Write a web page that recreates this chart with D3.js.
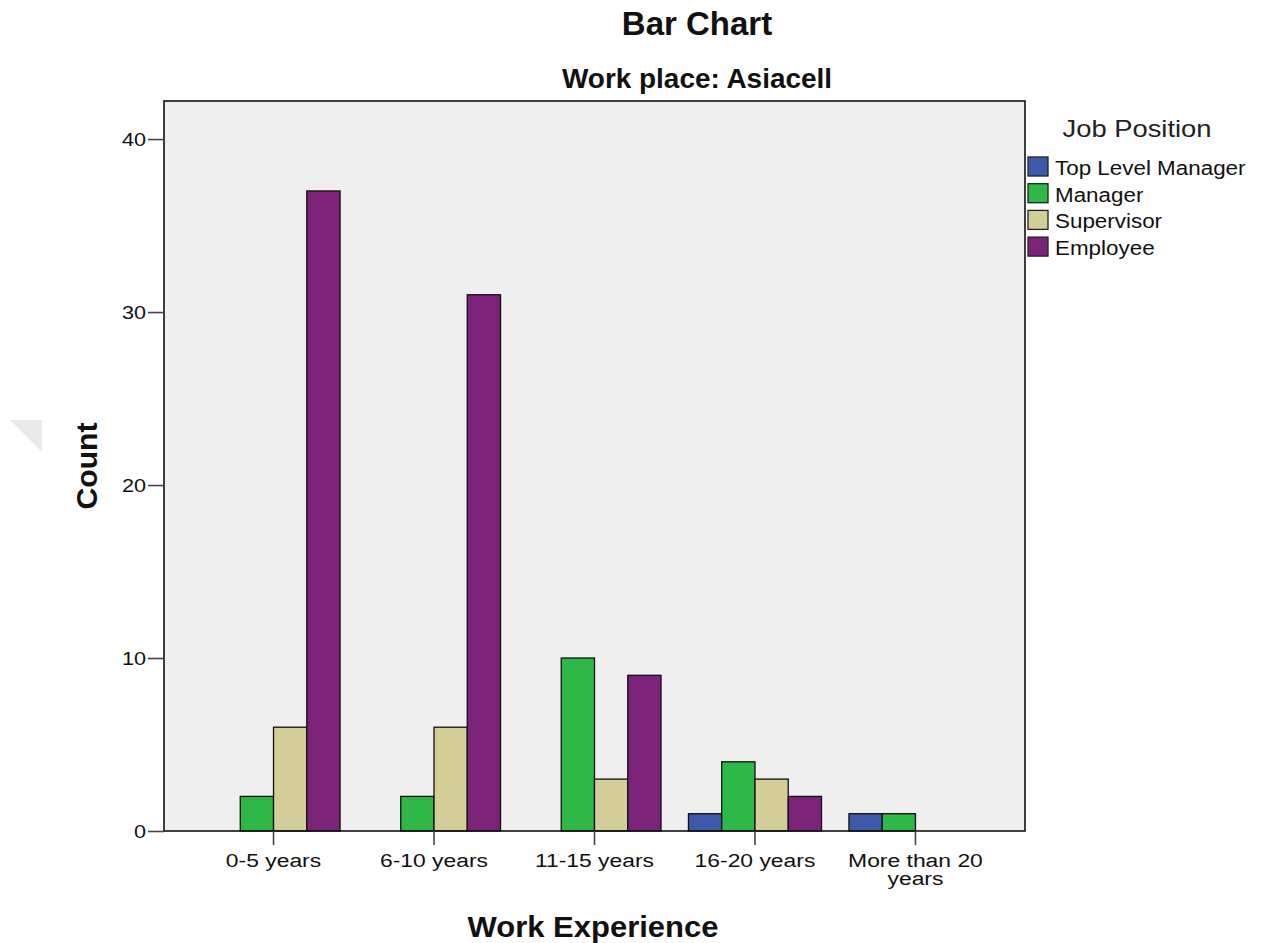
<!DOCTYPE html>
<html><head><meta charset="utf-8">
<script src="https://cdn.jsdelivr.net/npm/d3@7"></script>
<style>body{margin:0;background:#fff;} text{font-family:"Liberation Sans",Arial,sans-serif;}</style>
</head><body>
<svg id="chart" width="1263" height="943"></svg>
<script>
const categories = ["0-5 years","6-10 years","11-15 years","16-20 years","More than 20 years"];
const categoryLines = [["0-5 years"],["6-10 years"],["11-15 years"],["16-20 years"],["More than 20","years"]];
const seriesNames = ["Top Level Manager","Manager","Supervisor","Employee"];
const topLevelManager = [0,0,0,1,1];
const manager = [2,2,10,4,1];
const supervisor = [6,6,3,3,0];
const employee = [37,31,9,2,0];
const yTicks = [0,10,20,30,40];
const colors = ["#3E58AC","#2EB848","#D3CE97","#7B2378"];

const seriesValues = [topLevelManager, manager, supervisor, employee];
const svg = d3.select("#chart");
const L=164, R=1025, T=101, B=831;

function stretch(sel, f){
  sel.each(function(){
    const w = this.getComputedTextLength();
    d3.select(this).attr("textLength", w*f).attr("lengthAdjust","spacingAndGlyphs");
  });
}

// faint artifact triangle
svg.append("polygon").attr("points","10,420 42,420 42,452").attr("fill","#e9e9e9");

svg.append("rect").attr("x",L).attr("y",T).attr("width",R-L).attr("height",B-T)
  .attr("fill","#EFEFEF");

const x0 = d3.scaleBand().domain(categories).range([L,R]).paddingInner(0.171).paddingOuter(0.268);
const x1 = d3.scaleBand().domain(seriesNames).range([0,x0.bandwidth()]);
const y = d3.scaleLinear().domain([0,42.2]).range([B,T]);

const data = [];
categories.forEach((c,i)=>seriesNames.forEach((s,j)=>{
  if(seriesValues[j][i]>0) data.push({c,s,v:seriesValues[j][i],col:colors[j]});
}));
svg.append("g").selectAll("rect").data(data).join("rect")
  .attr("x",d=>x0(d.c)+x1(d.s)).attr("width",x1.bandwidth())
  .attr("y",d=>y(d.v)).attr("height",d=>B-y(d.v))
  .attr("fill",d=>d.col).attr("stroke","#111").attr("stroke-width",1.3);

// frame
svg.append("rect").attr("x",L).attr("y",T).attr("width",R-L).attr("height",B-T)
  .attr("fill","none").attr("stroke","#111").attr("stroke-width",1.6);

// y axis
const ya = svg.append("g").attr("transform",`translate(${L},0)`)
  .call(d3.axisLeft(y).tickValues(yTicks).tickSize(16).tickPadding(2).tickFormat(d3.format("d")));
ya.select(".domain").remove();
ya.selectAll("line").attr("stroke","#444").attr("stroke-width",1.6);
ya.selectAll("text").attr("font-size",18).attr("fill","#111").attr("dy","0.36em")
  .style("font-family","Liberation Sans, Arial, sans-serif");
stretch(ya.selectAll("text"),1.2);

// x axis
const xa = svg.append("g").attr("transform",`translate(0,${B})`)
  .call(d3.axisBottom(x0).tickSize(14).tickFormat(""));
xa.select(".domain").remove();
xa.selectAll("line").attr("stroke","#444").attr("stroke-width",1.6);
categories.forEach((c,i)=>{
  const cx = x0(c)+x0.bandwidth()/2;
  categoryLines[i].forEach((ln,k)=>{
    const t = svg.append("text").attr("x",cx).attr("y",867+k*18).attr("text-anchor","middle")
      .attr("font-size",18).attr("fill","#111").text(ln);
    stretch(t,1.27);
  });
});

// titles
svg.append("text").attr("x",697).attr("y",35).attr("text-anchor","middle")
  .attr("font-size",33).attr("font-weight","bold").attr("fill","#111").text("Bar Chart");
const sub = svg.append("text").attr("x",697).attr("y",88).attr("text-anchor","middle")
  .attr("font-size",27).attr("font-weight","bold").attr("fill","#111").text("Work place: Asiacell");
stretch(sub, 270/sub.node().getComputedTextLength());
const cnt = svg.append("text").attr("transform","translate(97,466) rotate(-90)").attr("text-anchor","middle")
  .attr("font-size",30).attr("font-weight","bold").attr("fill","#111").text("Count");
stretch(cnt, 87/cnt.node().getComputedTextLength());
const xl = svg.append("text").attr("x",593).attr("y",937).attr("text-anchor","middle")
  .attr("font-size",30).attr("font-weight","bold").attr("fill","#111").text("Work Experience");
stretch(xl, 251/xl.node().getComputedTextLength());

// legend
const lt = svg.append("text").attr("x",1137).attr("y",137).attr("text-anchor","middle")
  .attr("font-size",24).attr("fill","#222").text("Job Position");
stretch(lt, 149/lt.node().getComputedTextLength());
const lg = svg.append("g").selectAll("g").data(seriesNames).join("g")
  .attr("transform",(d,i)=>`translate(1028,${157+i*26.7})`);
lg.append("rect").attr("width",20).attr("height",19).attr("fill",(d,i)=>colors[i])
  .attr("stroke","#222").attr("stroke-width",1.3);
const ltx = lg.append("text").attr("x",27).attr("y",18).attr("font-size",20).attr("fill","#111").text(d=>d);
stretch(ltx,1.12);
</script>
</body></html>
